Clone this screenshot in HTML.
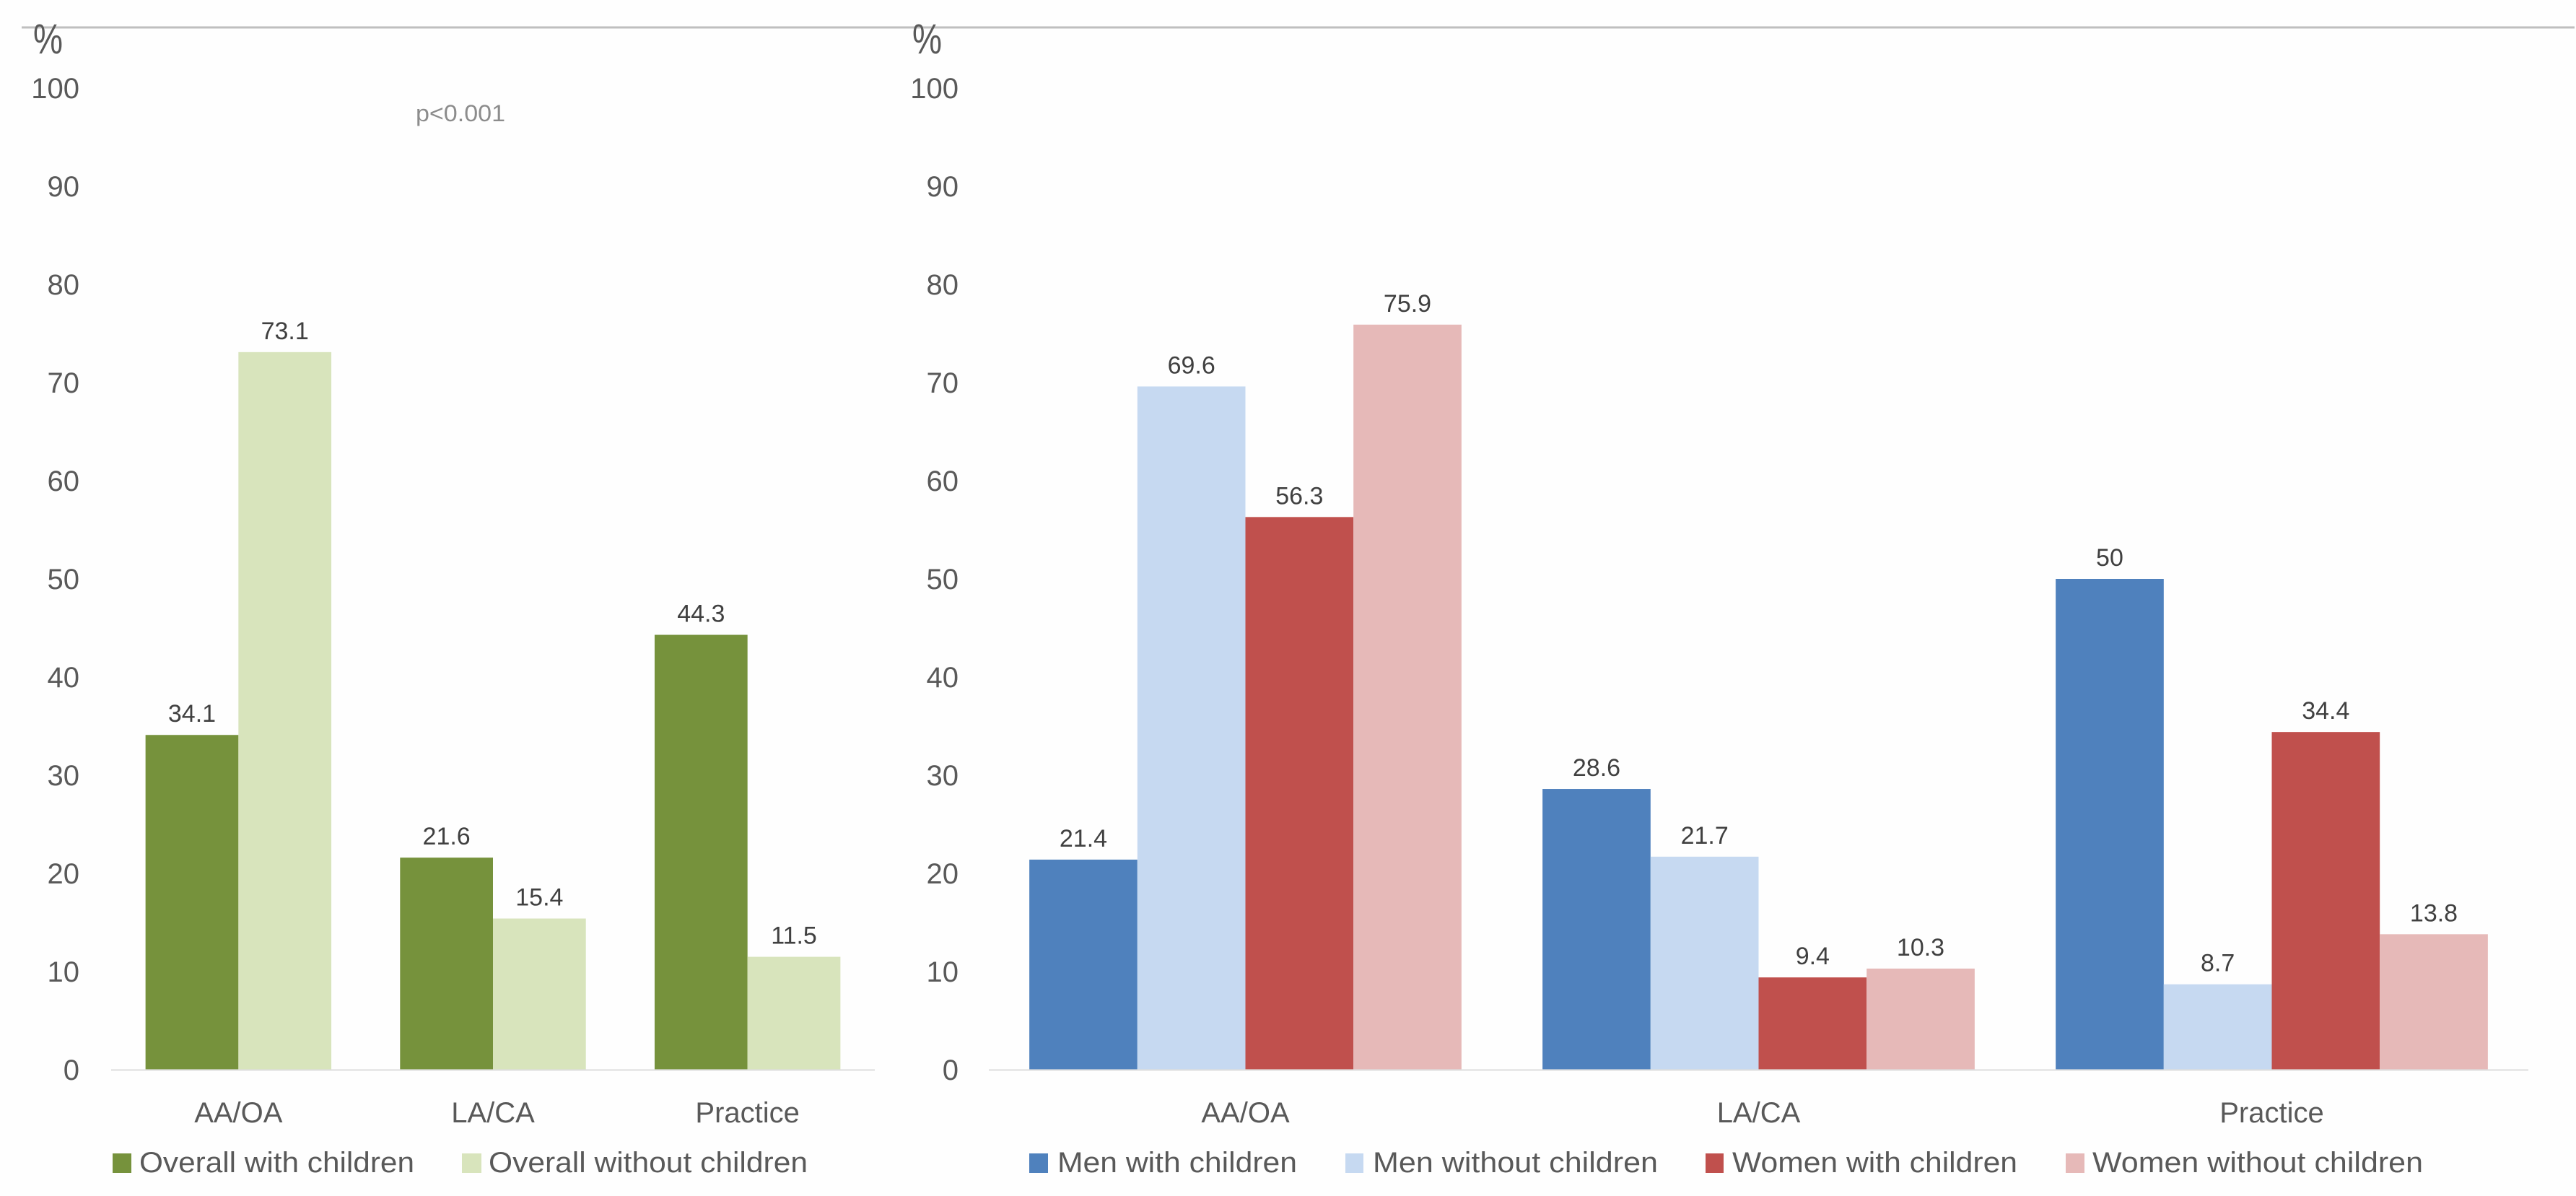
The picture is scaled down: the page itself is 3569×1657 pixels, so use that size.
<!DOCTYPE html>
<html lang="en">
<head>
<meta charset="utf-8">
<title>Overall and by gender: with and without children</title>
<style>
html,body{margin:0;padding:0;background:#fefefe;}
svg{display:block;}
text{font-family:"Liberation Sans",sans-serif;}
</style>
</head>
<body>
<svg id="chart" width="3569" height="1657" viewBox="0 0 3569 1657" xmlns="http://www.w3.org/2000/svg">
  <rect x="0" y="0" width="3569" height="1657" fill="#fefefe"/>
  <rect x="30" y="36.5" width="3537" height="3" fill="#bfbfbf"/>
  <text x="46" y="74" font-size="58" fill="#595959" textLength="41" lengthAdjust="spacingAndGlyphs">%</text>
  <text x="1264" y="74" font-size="58" fill="#595959" textLength="41" lengthAdjust="spacingAndGlyphs">%</text>
  <text x="576" y="168" font-size="32" fill="#8c8c8c" textLength="124" lengthAdjust="spacingAndGlyphs">p&lt;0.001</text>
  <g id="left-chart"></g>
  <g id="right-chart"></g>
  <g font-size="40" fill="#595959">
    <g>
      <rect x="156" y="1598" width="26" height="27" fill="#76923c"/>
      <text x="193" y="1624" textLength="381" lengthAdjust="spacingAndGlyphs">Overall with children</text>
    </g>
    <g>
      <rect x="640" y="1598" width="27" height="27" fill="#d8e4bc"/>
      <text x="677" y="1624" textLength="442" lengthAdjust="spacingAndGlyphs">Overall without children</text>
    </g>
  </g>
  <g font-size="40" fill="#595959">
    <g>
      <rect x="1426" y="1598" width="26" height="27" fill="#4f81bd"/>
      <text x="1465" y="1624" textLength="332" lengthAdjust="spacingAndGlyphs">Men with children</text>
    </g>
    <g>
      <rect x="1864" y="1598" width="25" height="27" fill="#c6d9f1"/>
      <text x="1902" y="1624" textLength="395" lengthAdjust="spacingAndGlyphs">Men without children</text>
    </g>
    <g>
      <rect x="2363" y="1598" width="25" height="27" fill="#c0504d"/>
      <text x="2400" y="1624" textLength="395" lengthAdjust="spacingAndGlyphs">Women with children</text>
    </g>
    <g>
      <rect x="2862" y="1598" width="26" height="27" fill="#e6b9b8"/>
      <text x="2899" y="1624" textLength="458" lengthAdjust="spacingAndGlyphs">Women without children</text>
    </g>
  </g>
</svg>
<script>
var categories = ["AA/OA", "LA/CA", "Practice"];
var yTicks = [0, 10, 20, 30, 40, 50, 60, 70, 80, 90, 100];
var overallWith = [34.1, 21.6, 44.3];
var overallWithout = [73.1, 15.4, 11.5];
var menWith = [21.4, 28.6, 50];
var menWithout = [69.6, 21.7, 8.7];
var womenWith = [56.3, 9.4, 34.4];
var womenWithout = [75.9, 10.3, 13.8];
var leftColors = ["#76923c", "#d8e4bc"];
var rightColors = ["#4f81bd", "#c6d9f1", "#c0504d", "#e6b9b8"];

var SVG_NS = "http://www.w3.org/2000/svg";
var ZERO_Y = 1482;
var UNITS = 13.6;

function yScale(v) {
  return ZERO_Y - v * UNITS;
}

function create(parent, tag, attrs, content) {
  var el = document.createElementNS(SVG_NS, tag);
  for (var k in attrs) {
    el.setAttribute(k, attrs[k]);
  }
  if (content !== undefined) {
    el.textContent = content;
  }
  parent.appendChild(el);
  return el;
}

function drawChart(root, cfg) {
  var catWidth = (cfg.axisEnd - cfg.axisStart) / categories.length;
  var n = cfg.series.length;
  var barWidth = catWidth / (n + cfg.gap);

  yTicks.forEach(function (t) {
    var tick = create(root, "text", {
      x: cfg.tickX, y: yScale(t) + 14, "font-size": 40, fill: "#595959", "text-anchor": "end"
    }, String(t));
    
    
  });

  categories.forEach(function (cat, c) {
    var center = cfg.axisStart + catWidth * (c + 0.5);
    var catLabel = create(root, "text", {
      x: center, y: 1555, "font-size": 40, fill: "#595959", "text-anchor": "middle"
    }, cat);
    
    

    cfg.series.forEach(function (values, s) {
      var x = center - n * barWidth / 2 + s * barWidth;
      var top = yScale(values[c]);
      var bar = create(root, "rect", {
        x: x, y: top, width: barWidth, height: ZERO_Y - top, fill: cfg.colors[s]
      });
      
      

      var valueLabel = create(root, "text", {
        x: x + barWidth / 2, y: top - 18, "font-size": 34, fill: "#404040", "text-anchor": "middle"
      }, String(values[c]));
      
      
    });
  });

  var axis = create(root, "rect", {
    x: cfg.axisStart, y: 1481, width: cfg.axisEnd - cfg.axisStart, height: 3, fill: "#d9d9d9", "fill-opacity": 0.6
  });
  
  
}

drawChart(document.getElementById("left-chart"), {
  axisStart: 154, axisEnd: 1212, tickX: 110, gap: 0.74,
  series: [overallWith, overallWithout], colors: leftColors
});
drawChart(document.getElementById("right-chart"), {
  axisStart: 1370, axisEnd: 3503, tickX: 1328, gap: 0.75,
  series: [menWith, menWithout, womenWith, womenWithout], colors: rightColors
});
</script>
</body>
</html>
